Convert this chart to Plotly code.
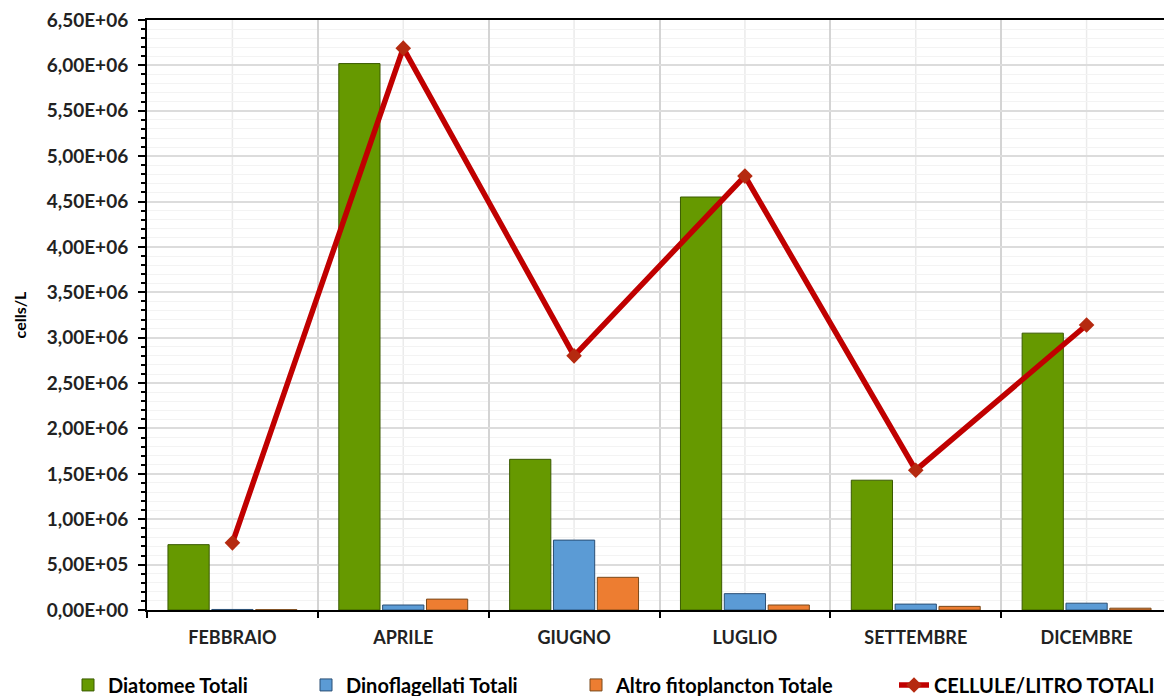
import plotly.graph_objects as go

mesi = ["FEBBRAIO", "APRILE", "GIUGNO", "LUGLIO", "SETTEMBRE", "DICEMBRE"]
diatomee = [7.2e5, 6.02e6, 1.66e6, 4.55e6, 1.43e6, 3.05e6]
dinoflagellati = [6e3, 5.5e4, 7.7e5, 1.8e5, 6.5e4, 7.5e4]
altro = [4e3, 1.2e5, 3.6e5, 5.5e4, 4e4, 2e4]
totale = [7.4e5, 6.19e6, 2.80e6, 4.78e6, 1.54e6, 3.14e6]

y_ticks = [i * 5e5 for i in range(14)]
y_labels = [f"{v:.2E}".replace(".", ",") for v in y_ticks]

font_fam = "Lato"

fig = go.Figure()
fig.add_trace(go.Bar(x=mesi, y=diatomee, name="Diatomee Totali",
                     marker=dict(color="#669900", line=dict(color="#3a5a00", width=1)),
                     legend="legend"))
fig.add_trace(go.Bar(x=mesi, y=dinoflagellati, name="Dinoflagellati Totali",
                     marker=dict(color="#5b9bd5", line=dict(color="#2a4f75", width=1)),
                     legend="legend2"))
fig.add_trace(go.Bar(x=mesi, y=altro, name="Altro fitoplancton Totale",
                     marker=dict(color="#ed7d31", line=dict(color="#7a4a1c", width=1)),
                     legend="legend3"))
fig.add_trace(go.Scatter(x=mesi, y=totale, name="CELLULE/LITRO TOTALI", mode="lines+markers",
                         line=dict(color="#c00000", width=5.5),
                         marker=dict(symbol="diamond", size=12, color="#b52a10"),
                         legend="legend4"))

# faint gridlines at category centres
for m in mesi:
    fig.add_shape(type="line", xref="x", yref="paper", x0=m, x1=m, y0=0, y1=1,
                  line=dict(color="#ebebeb", width=1.5), layer="below")

leg = dict(orientation="h", y=-0.127, yanchor="middle", xanchor="left",
           font=dict(family=font_fam, size=20, color="black", weight="bold"),
           bgcolor="rgba(0,0,0,0)", itemwidth=30)

# page has an 8px body margin, so the figure is 8px smaller each way
fig.update_layout(
    width=1164, height=688,
    margin=dict(l=139, r=0, t=12, b=86, autoexpand=False),
    paper_bgcolor="white", plot_bgcolor="white",
    barmode="group", bargap=0.23, bargroupgap=0.06,
    showlegend=True,
    legend=dict(leg, x=(68 - 147) / 1025),
    legend2=dict(leg, x=(306 - 147) / 1025),
    legend3=dict(leg, x=(576 - 147) / 1025),
    legend4=dict(leg, x=(894 - 147) / 1025),
    font=dict(family=font_fam, color="black"),
    xaxis=dict(
        automargin=False,
        tickson="boundaries", ticks="outside", ticklen=6, tickwidth=2, tickcolor="black",
        ticklabelstandoff=10,
        showgrid=True, gridcolor="#d4d4d4", gridwidth=1.5,
        showline=True, linecolor="black", linewidth=2, mirror=True,
        tickfont=dict(family=font_fam, size=18, color="#222", weight="bold"),
    ),
    yaxis=dict(
        automargin=False,
        range=[0, 6.5e6], tickvals=y_ticks, ticktext=y_labels,
        ticks="outside", ticklen=7, tickwidth=2, tickcolor="black",
        ticklabelstandoff=6, ticklabeloverflow="allow",
        showgrid=True, gridcolor="#dcdcdc", gridwidth=1.5,
        zeroline=False, showline=True, linecolor="black", linewidth=2,
        tickfont=dict(family=font_fam, size=19, color="#222", weight="bold"),
        title=dict(text="cells/L", font=dict(family=font_fam, size=16, weight="bold"), standoff=16),
        minor=dict(dtick=1e5, tick0=0, showgrid=True, gridcolor="#f3f3f3", gridwidth=1,
                   ticks="outside", ticklen=4, tickcolor="black", tickwidth=1.5),
    ),
)

fig.write_html("out.html")
